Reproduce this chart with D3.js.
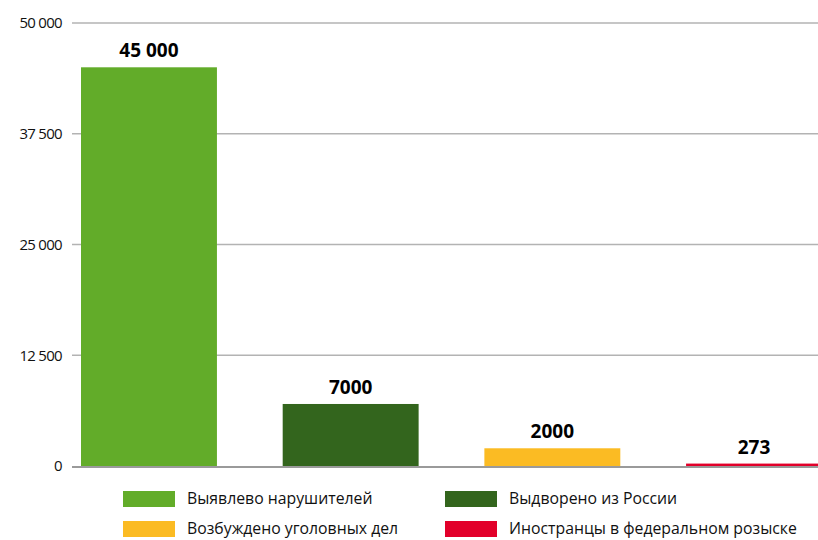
<!DOCTYPE html>
<html>
<head>
<meta charset="utf-8">
<script src="https://cdn.jsdelivr.net/npm/d3@7"></script>
<style>
  html, body { margin: 0; padding: 0; background: #fff; }
  svg { display: block; font-family: "Open Sans", "Noto Sans", sans-serif; }
</style>
</head>
<body>
<svg id="chart" width="818" height="540"></svg>
<script>
const categories = ["Выявлево нарушителей", "Выдворено из России", "Возбуждено уголовных дел", "Иностранцы в федеральном розыске"];
const values = [45000, 7000, 2000, 273];
const valueLabels = ["45 000", "7000", "2000", "273"];
const colors = ["#62ac29", "#33651d", "#fbbb23", "#e2002a"];
const tickValues = [0, 12500, 25000, 37500, 50000];
const tickLabels = ["0", "12 500", "25 000", "37 500", "50 000"];

const svg = d3.select("#chart");
const W = 818, H = 540;

const y = d3.scaleLinear().domain([0, 50000]).range([466, 23]);
const x = d3.scaleBand().domain(categories).range([81, 822]).paddingInner(0.326).paddingOuter(0);

// gridlines
const gridG = svg.append("g");
gridG.selectAll("line").data(tickValues.filter(d => d > 0)).join("line")
  .attr("x1", 72).attr("x2", W)
  .attr("y1", d => y(d)).attr("y2", d => y(d))
  .attr("stroke", "#b3b3b3").attr("stroke-width", 1.3);

// y axis labels via d3 axis
const axis = d3.axisLeft(y).tickValues(tickValues)
  .tickFormat((d) => tickLabels[tickValues.indexOf(d)])
  .tickSize(0).tickPadding(0);
const axG = svg.append("g").attr("transform", "translate(62,0)").call(axis);
axG.select(".domain").remove();
axG.selectAll("text").attr("font-size", 15).attr("fill", "#111")
  .attr("font-family", "'Open Sans', sans-serif").attr("dy", "0.32em")
  .style("letter-spacing", "-0.7px");

// bars
svg.append("g").selectAll("rect").data(categories).join("rect")
  .attr("x", d => x(d))
  .attr("width", x.bandwidth())
  .attr("y", (d, i) => y(values[i]))
  .attr("height", (d, i) => y(0) - y(values[i]))
  .attr("fill", (d, i) => colors[i]);

// baseline
svg.append("line").attr("x1", 72).attr("x2", W)
  .attr("y1", y(0) + 1).attr("y2", y(0) + 1)
  .attr("stroke", "#9a9a9a").attr("stroke-width", 2);

// value labels
svg.append("g").selectAll("text").data(categories).join("text")
  .attr("x", d => x(d) + x.bandwidth() / 2)
  .attr("y", (d, i) => y(values[i]) - 10)
  .attr("text-anchor", "middle")
  .attr("font-weight", "bold")
  .attr("font-size", 19)
  .attr("fill", "#000")
  .text((d, i) => valueLabels[i]);

// legend
const legendPos = [[123, 491], [445, 491], [123, 521], [445, 521]];
const lg = svg.append("g").selectAll("g").data(categories).join("g")
  .attr("transform", (d, i) => `translate(${legendPos[i][0]},${legendPos[i][1]})`);
lg.append("rect").attr("width", 52).attr("height", 16).attr("fill", (d, i) => colors[i]);
lg.append("text").attr("x", 64).attr("y", 7).attr("dy", "0.35em")
  .attr("font-size", 15.8).attr("fill", "#111").text(d => d);
</script>
</body>
</html>
